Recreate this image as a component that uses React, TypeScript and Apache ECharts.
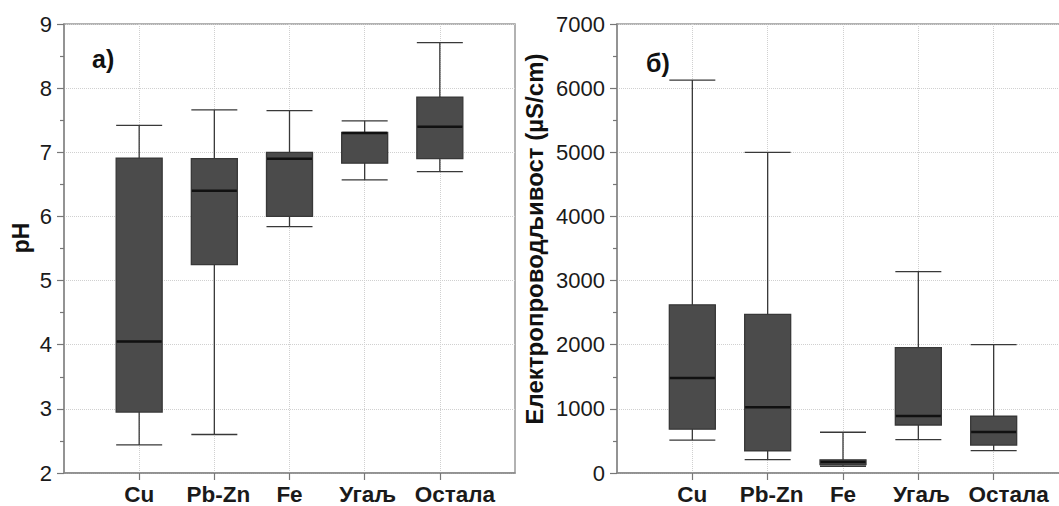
import React, { useEffect, useRef } from 'react';
import * as echarts from 'echarts';

const categories = ['Cu', 'Pb-Zn', 'Fe', 'Угаљ', 'Остала'];

const phMin = [2.44, 2.6, 5.84, 6.57, 6.7];
const phQ1 = [2.95, 5.25, 6.0, 6.83, 6.9];
const phMedian = [4.05, 6.4, 6.9, 7.3, 7.4];
const phQ3 = [6.91, 6.9, 7.0, 7.31, 7.86];
const phMax = [7.42, 7.66, 7.65, 7.49, 8.71];

const ecMin = [513, 207, 105, 520, 350];
const ecQ1 = [684, 347, 130, 748, 435];
const ecMedian = [1480, 1026, 170, 890, 640];
const ecQ3 = [2622, 2472, 205, 1954, 885];
const ecMax = [6125, 5000, 635, 3140, 2000];

const panelLabels = ['а)', 'б)'];
const yNames = ['pH', 'Електропроводљивост (µS/cm)'];

// label horizontal nudges (px, style only)
const labelPadLeft = [0, 8, 0, 6, 30];

const FONT = '"Liberation Sans", Arial, sans-serif';
const axisCats = ['', ...categories, ''];

function boxRows(mn: number[], q1: number[], md: number[], q3: number[], mx: number[]) {
  return categories.map((_, i) => [i + 1, mn[i], q1[i], md[i], q3[i], mx[i]]);
}
function medianRows(md: number[]) {
  return categories.map((_, i) => [i + 1, md[i]]);
}

const inner = (i: number) => i > 0 && i < axisCats.length - 1;

const rich: Record<string, any> = {};
labelPadLeft.forEach((p, i) => {
  rich['c' + i] = {
    padding: [0, 0, 0, p],
    color: '#1a1a1a',
    fontFamily: FONT,
    fontSize: 22.5,
    fontWeight: 'bold',
  };
});

function xAxis(gridIndex: number) {
  return {
    type: 'category',
    gridIndex,
    data: axisCats,
    boundaryGap: false,
    axisLine: { show: true, lineStyle: { color: '#888', width: 1.5 } },
    axisTick: { show: true, interval: (i: number) => inner(i), length: 7, lineStyle: { color: '#777', width: 1.2 } },
    axisLabel: {
      interval: 0,
      margin: 10,
      color: '#1a1a1a',
      fontFamily: FONT,
      fontSize: 22.5,
      fontWeight: 'bold',
      formatter: (v: string, i: number) => (v ? `{c${i - 1}|${v}}` : ''),
      rich,
    },
    splitLine: { show: true, interval: (i: number) => inner(i), lineStyle: { color: '#d0d0d0', type: 'dotted', width: 1 } },
  };
}

function yAxis(gridIndex: number, min: number, max: number, interval: number) {
  return {
    type: 'value',
    gridIndex,
    min,
    max,
    interval,
    axisLine: { show: true, lineStyle: { color: '#888', width: 1.5 } },
    axisTick: { show: true, length: 7, lineStyle: { color: '#777', width: 1.2 } },
    minorTick: { show: true, splitNumber: 2, length: 4, lineStyle: { color: '#777', width: 1.2 } },
    axisLabel: {
      margin: 12,
      color: '#1a1a1a',
      fontFamily: FONT,
      fontSize: 22,
      formatter: (v: number) => String(v),
    },
    splitLine: { show: true, lineStyle: { color: '#d0d0d0', type: 'dotted', width: 1 } },
  };
}

function boxSeries(idx: number, rows: number[][]) {
  return {
    type: 'boxplot',
    xAxisIndex: idx,
    yAxisIndex: idx,
    encode: { x: 0, y: [1, 2, 3, 4, 5] },
    data: rows,
    boxWidth: [46, 46],
    itemStyle: { color: '#4b4b4b', borderColor: '#383838', borderWidth: 1.3 },
    silent: true,
  };
}

function medianSeries(idx: number, rows: number[][]) {
  return {
    type: 'scatter',
    xAxisIndex: idx,
    yAxisIndex: idx,
    data: rows,
    symbol: 'rect',
    symbolSize: [45, 2.5],
    itemStyle: { color: '#111', opacity: 1 },
    silent: true,
    z: 5,
  };
}

export default function App() {
  const ref = useRef<HTMLDivElement>(null);
  useEffect(() => {
    if (!ref.current) return;
    const chart = echarts.init(ref.current, null, { renderer: 'svg' });
    chart.setOption({
      animation: false,
      backgroundColor: '#ffffff',
      grid: [
        { left: 64, top: 24, width: 451, height: 450, show: true, borderColor: '#999', borderWidth: 1.5, backgroundColor: 'transparent' },
        { left: 617, top: 24, width: 452, height: 450, show: true, borderColor: '#999', borderWidth: 1.5, backgroundColor: 'transparent' },
      ],
      xAxis: [xAxis(0), xAxis(1)],
      yAxis: [yAxis(0, 2, 9, 1), yAxis(1, 0, 7000, 1000)],
      series: [
        boxSeries(0, boxRows(phMin, phQ1, phMedian, phQ3, phMax)),
        medianSeries(0, medianRows(phMedian)),
        boxSeries(1, boxRows(ecMin, ecQ1, ecMedian, ecQ3, ecMax)),
        medianSeries(1, medianRows(ecMedian)),
      ],
      graphic: [
        {
          type: 'text', left: 92, top: 46,
          style: { text: panelLabels[0], font: `bold 25px ${FONT}`, fill: '#111' },
        },
        {
          type: 'text', left: 646, top: 50,
          style: { text: panelLabels[1], font: `bold 25px ${FONT}`, fill: '#111' },
        },
        {
          type: 'text', x: 21, y: 238, rotation: Math.PI / 2,
          style: { text: yNames[0], font: `bold 23px ${FONT}`, fill: '#111', textAlign: 'center', textVerticalAlign: 'middle', align: 'center', verticalAlign: 'middle' },
        },
        {
          type: 'text', x: 534, y: 239, rotation: Math.PI / 2,
          style: { text: yNames[1], font: `bold 24px ${FONT}`, fill: '#111', textAlign: 'center', textVerticalAlign: 'middle', align: 'center', verticalAlign: 'middle' },
        },
      ],
    });
    return () => chart.dispose();
  }, []);
  return (
    <div style={{ position: 'fixed', left: 0, top: 0, width: 1059, height: 506, overflow: 'hidden', background: '#fff' }}>
      <div ref={ref} style={{ width: 1080, height: 506 }} />
    </div>
  );
}
